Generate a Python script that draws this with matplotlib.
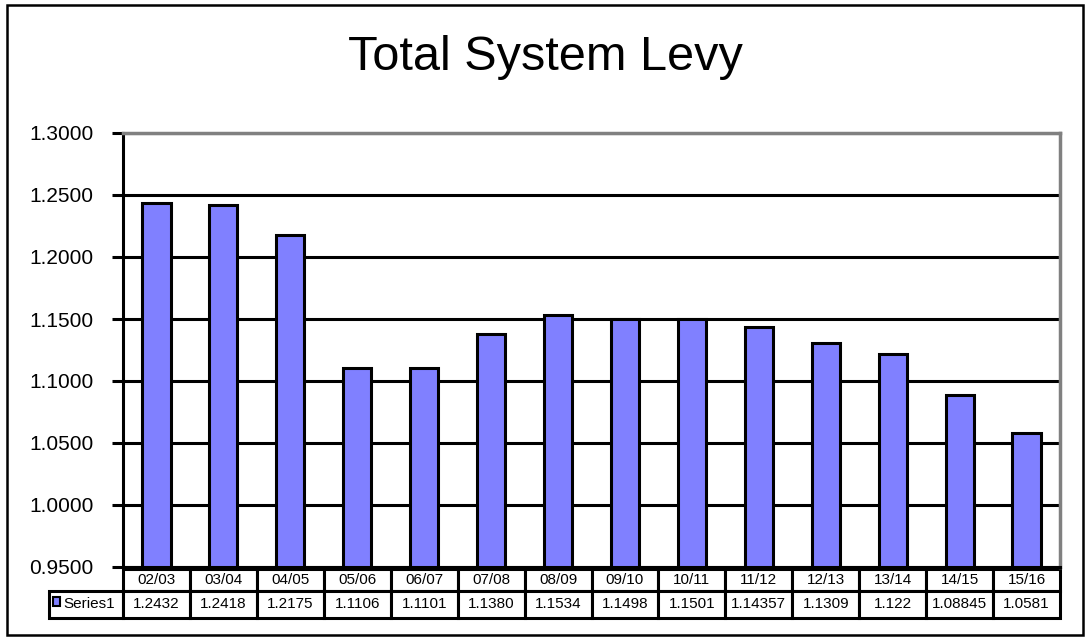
import matplotlib
matplotlib.use("Agg")
import matplotlib.pyplot as plt
from matplotlib.patches import Rectangle

plt.rcParams['font.family'] = ['Liberation Sans', 'DejaVu Sans']

years = ['02/03', '03/04', '04/05', '05/06', '06/07', '07/08', '08/09',
         '09/10', '10/11', '11/12', '12/13', '13/14', '14/15', '15/16']
levy = [1.2432, 1.2418, 1.2175, 1.1106, 1.1101, 1.1380, 1.1534,
        1.1498, 1.1501, 1.14357, 1.1309, 1.122, 1.08845, 1.0581]
levy_labels = ['1.2432', '1.2418', '1.2175', '1.1106', '1.1101', '1.1380', '1.1534',
               '1.1498', '1.1501', '1.14357', '1.1309', '1.122', '1.08845', '1.0581']
y_ticks = [0.95, 1.0, 1.05, 1.1, 1.15, 1.2, 1.25, 1.3]

W, H = 1086, 637
fig = plt.figure(figsize=(W / 100, H / 100), dpi=100)

# outer frame of the chart
fig.patches.append(Rectangle((7 / W, 2 / H), 1076 / W, 630 / H, transform=fig.transFigure,
                             fill=False, edgecolor='black', linewidth=1.8))

ax = fig.add_axes([123 / W, (H - 567) / H, 937 / W, 434 / H])

bottom = 0.95
x = range(len(years))
ax.bar(x, [v - bottom for v in levy], bottom=bottom, width=0.42,
       color='#8080ff', edgecolor='black', linewidth=2.2, zorder=3)

ax.set_xlim(-0.5, len(years) - 0.5)
ax.set_ylim(0.95, 1.3)
ax.set_yticks(y_ticks)
ax.set_yticklabels(['%.4f' % t for t in y_ticks], fontsize=15)
ax.set_xticks([])
ax.tick_params(axis='y', direction='out', length=8, width=2.2, pad=13)
ax.yaxis.grid(True, color='black', linewidth=2.2, zorder=0)
ax.set_axisbelow(True)

for side in ['top', 'right']:
    ax.spines[side].set_color('#808080')
    ax.spines[side].set_linewidth(2.5)
ax.spines['left'].set_linewidth(2.2)
ax.spines['bottom'].set_linewidth(2.2)

# data table under the axis (bbox covers the data grid only)
label_w = 74 / 937
tbl = ax.table(cellText=[levy_labels], rowLabels=['Series1'], colLabels=years,
               colWidths=[1 / len(years)] * len(years),
               cellLoc='center', rowLoc='left',
               bbox=[0, -51 / 434, 1, 49 / 434])
tbl._autoColumns = []
tbl.auto_set_font_size(False)
tbl.set_fontsize(11)
for (r, c), cell in tbl.get_celld().items():
    cell.set_linewidth(2.2)
    cell.set_height(22 if r == 0 else 27)
    if c == -1:
        cell.set_width(label_w)
        cell.PAD = 0.2
    else:
        cell.set_width(1 / len(years))

# legend key in the row label cell
ax.add_patch(Rectangle((-70 / 937, -39 / 434), 7 / 937, 9 / 434, transform=ax.transAxes,
                       facecolor='#8080ff', edgecolor='black', linewidth=1.5, clip_on=False))

fig.text(545 / W, (H - 70) / H, 'Total System Levy', fontsize=35, ha='center', va='baseline')

fig.savefig('out.png', dpi=100)
